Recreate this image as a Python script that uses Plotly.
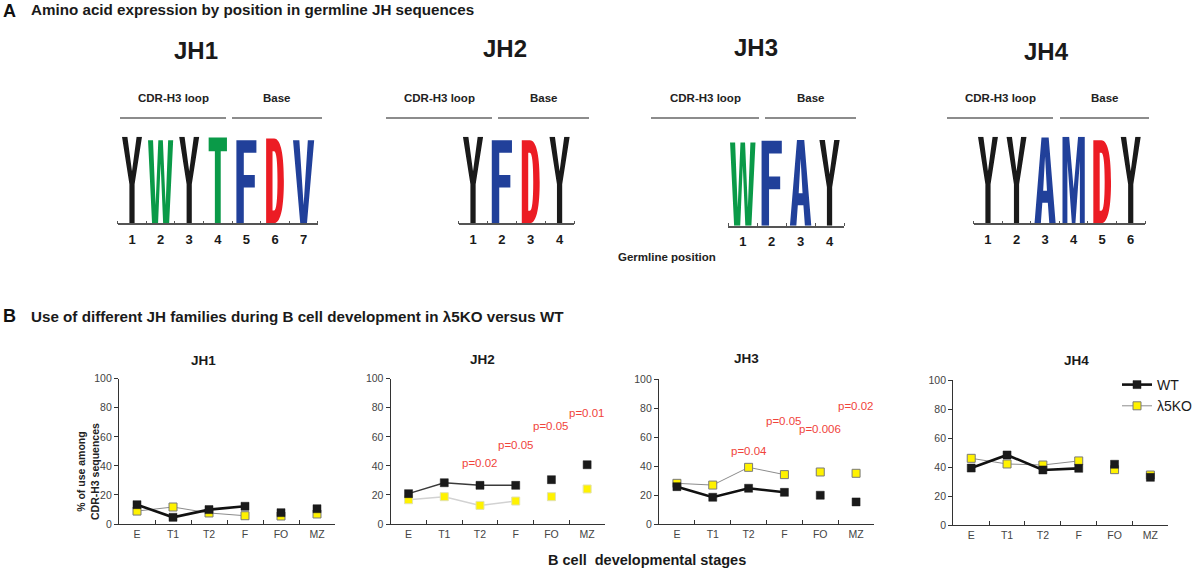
import plotly.graph_objects as go

W, H = 1195, 568

# ---------- Panel A: amino acids by germline position ----------
jh_names = ["JH1", "JH2", "JH3", "JH4"]
jh1_letters = ["Y", "W", "Y", "T", "F", "D", "V"]
jh1_heights = [1.0, 0.96, 1.0, 0.99, 0.96, 0.98, 0.96]
jh2_letters = ["Y", "F", "D", "Y"]
jh2_heights = [1.0, 0.96, 0.96, 1.0]
jh3_letters = ["W", "F", "A", "Y"]
jh3_heights = [0.97, 0.99, 1.0, 1.0]
jh4_letters = ["Y", "Y", "A", "M", "D", "Y"]
jh4_heights = [1.0, 1.0, 0.99, 1.0, 0.96, 1.0]

# ---------- Panel B: % of use among CDR-H3 sequences ----------
stages = ["E", "T1", "T2", "F", "FO", "MZ"]
jh1_wt = [13.3, 4.6, 9.9, 12.2, 7.8, 10.5]
jh1_ko = [8.9, 11.7, 7.6, 5.7, 5.5, 6.9]
jh2_wt = [20.9, 28.4, 26.6, 26.6, 30.5, 40.8]
jh2_ko = [16.7, 18.8, 12.8, 15.8, 18.8, 24.1]
jh3_wt = [25.9, 18.6, 24.8, 22.0, 20.0, 15.4]
jh3_ko = [28.2, 27.0, 39.2, 34.2, 36.0, 35.1]
jh4_wt = [39.4, 48.4, 38.1, 39.2, 42.0, 33.0]
jh4_ko = [46.1, 42.2, 41.5, 44.3, 38.3, 34.6]

jh2_pvals = ["p=0.02", "p=0.05", "p=0.05", "p=0.01"]
jh3_pvals = ["p=0.04", "p=0.05", "p=0.006", "p=0.02"]
pval_stages = ["T2", "F", "FO", "MZ"]


def px(x):
    return x / W


def py(y):
    return 1 - y / H


FONT = "Liberation Sans, Arial, sans-serif"
NARROW = "Liberation Sans Narrow, Arial Narrow, Liberation Sans, sans-serif"

# letter outlines in a unit box (y up)
GLYPHS = {
    "Y": "M 0,1 L 0.27,1 L 0.5,0.6 L 0.73,1 L 1,1 L 0.63,0.45 L 0.63,0 L 0.37,0 L 0.37,0.45 Z",
    "W": "M 0,1 L 0.2,1 L 0.3,0.22 L 0.41,1 L 0.59,1 L 0.7,0.22 L 0.8,1 L 1,1 "
         "L 0.84,0 L 0.6,0 L 0.5,0.72 L 0.4,0 L 0.16,0 Z",
    "T": "M 0,1 L 1,1 L 1,0.84 L 0.66,0.84 L 0.66,0 L 0.34,0 L 0.34,0.84 L 0,0.84 Z",
    "F": "M 0,0 L 0,1 L 1,1 L 1,0.85 L 0.37,0.85 L 0.37,0.58 L 0.92,0.58 "
         "L 0.92,0.43 L 0.37,0.43 L 0.37,0 Z",
    "D": "M 0,0 L 0,1 L 0.45,1 C 0.86,1 1,0.78 1,0.5 C 1,0.22 0.86,0 0.45,0 Z "
         "M 0.36,0.15 L 0.45,0.15 C 0.58,0.15 0.64,0.28 0.64,0.5 "
         "C 0.64,0.72 0.58,0.85 0.45,0.85 L 0.36,0.85 Z",
    "V": "M 0,1 L 0.3,1 L 0.5,0.22 L 0.7,1 L 1,1 L 0.66,0 L 0.34,0 Z",
    "A": "M 0,0 L 0.33,1 L 0.67,1 L 1,0 L 0.7,0 L 0.63,0.24 L 0.37,0.24 L 0.3,0 Z "
         "M 0.41,0.38 L 0.59,0.38 L 0.5,0.78 Z",
    "M": "M 0,0 L 0,1 L 0.3,1 L 0.5,0.4 L 0.7,1 L 1,1 L 1,0 L 0.78,0 L 0.78,0.72 "
         "L 0.58,0 L 0.42,0 L 0.22,0.72 L 0.22,0 Z",
}
GLYPH_W = {"Y": 0.7, "W": 0.88, "T": 0.64, "F": 0.7, "D": 0.62, "V": 0.74, "A": 0.74, "M": 0.78}
GLYPH_C = {"Y": "#1a1a1a", "W": "#0a9a48", "T": "#0a9a48", "F": "#21409a",
           "D": "#ec1c24", "V": "#21409a", "A": "#21409a", "M": "#21409a"}


def glyph_path(letter, pos, height):
    w = GLYPH_W[letter]
    out = []
    for tok in GLYPHS[letter].split():
        if "," in tok:
            gx, gy = map(float, tok.split(","))
            out.append(f"{pos - w / 2 + gx * w:.4f},{gy * height:.4f}")
        else:
            out.append(tok)
    return " ".join(out)


fig = go.Figure()
layout = {}
shapes = []
annotations = []

# logo panels: x domain (px), baseline / top (px), title pos, loop/base brackets
logo_letters = [jh1_letters, jh2_letters, jh3_letters, jh4_letters]
logo_heights = [jh1_heights, jh2_heights, jh3_heights, jh4_heights]
logo_xdom = [(117.7, 317.9), (458.6, 574.0), (728.3, 844.0), (973.7, 1145.0)]
logo_ydom = [(223.3, 136.7), (223.3, 136.7), (225.7, 140.0), (223.3, 136.7)]
logo_title = [(196, 50), (505, 48), (755.5, 47), (1046, 51)]
loop_line = [(120, 226), (386, 492), (651, 759), (947, 1053)]
base_line = [(232, 322), (498, 589), (765, 856), (1060, 1149)]

for i in range(4):
    k = i + 1
    xa = "x" if k == 1 else f"x{k}"
    ya = "y" if k == 1 else f"y{k}"
    letters, heights = logo_letters[i], logo_heights[i]
    pos = list(range(1, len(letters) + 1))
    fig.add_trace(go.Scatter(
        x=pos, y=heights, mode="markers", marker=dict(opacity=0),
        text=letters, hovertemplate="%{x}: %{text}<extra></extra>",
        xaxis=xa, yaxis=ya, showlegend=False))
    for p, letter, h in zip(pos, letters, heights):
        shapes.append(dict(type="path", xref=xa, yref=ya, path=glyph_path(letter, p, h),
                           fillcolor=GLYPH_C[letter], line=dict(width=0), layer="below"))
    layout["xaxis" if k == 1 else f"xaxis{k}"] = dict(
        domain=[px(logo_xdom[i][0]), px(logo_xdom[i][1])], anchor=ya,
        range=[0.5, len(letters) + 0.5], tickmode="array", tickvals=pos,
        ticktext=[str(p) for p in pos], ticks="", ticklabelstandoff=3,
        tickfont=dict(family=FONT, size=13, color="#1a1a1a", weight="bold"),
        minor=dict(tickmode="array", tickvals=[p - 0.5 for p in pos] + [len(pos) + 0.5],
                   ticks="inside", ticklen=3, tickcolor="#555", tickwidth=1),
        showline=True, linecolor="#555", linewidth=1.5, showgrid=False,
        zeroline=False, fixedrange=True)
    layout["yaxis" if k == 1 else f"yaxis{k}"] = dict(
        domain=[py(logo_ydom[i][0]), py(logo_ydom[i][1])], anchor=xa,
        range=[0, 1], visible=False, fixedrange=True)

    annotations.append(dict(x=px(logo_title[i][0]), y=py(logo_title[i][1]),
                            text=f"<b>{jh_names[i]}</b>", showarrow=False,
                            font=dict(family=FONT, size=24, color="#1a1a1a")))
    for (x0, x1), label in zip([loop_line[i], base_line[i]], ["CDR-H3 loop", "Base"]):
        shapes.append(dict(type="line", xref="paper", yref="paper",
                           x0=px(x0), x1=px(x1), y0=py(118), y1=py(118),
                           line=dict(color="#666", width=1.5)))
        annotations.append(dict(x=px((x0 + x1) / 2), y=py(98), text=f"<b>{label}</b>",
                                showarrow=False,
                                font=dict(family=FONT, size=11.5, color="#222")))

annotations.append(dict(x=px(667), y=py(257), text="<b>Germline position</b>",
                        showarrow=False, font=dict(family=FONT, size=11.5, color="#222")))

# ---------- line charts ----------
wt_series = [jh1_wt, jh2_wt, jh3_wt, jh4_wt]
ko_series = [jh1_ko, jh2_ko, jh3_ko, jh4_ko]
chart_xdom = [(119, 335), (390.7, 605), (659, 874), (953.3, 1168.3)]
chart_ydom = [(524, 378.7), (524, 378.7), (524.3, 379), (525.3, 380)]
chart_title = [(203, 360), (482.7, 359.3), (746.7, 358), (1076, 360)]
wt_width = [2.6, 1.5, 2.6, 2.6]
wt_line = ["#111", "#3a3a3a", "#111", "#111"]
ko_width = [1, 1.5, 1, 1]
ko_line = ["#8c8c8c", "#d2d2d2", "#8c8c8c", "#8c8c8c"]
ko_edge = ["#7a7a7a", "#e2e2b0", "#7a7a7a", "#7a7a7a"]

for i in range(4):
    k = i + 5
    xa, ya = f"x{k}", f"y{k}"
    legend_on = i == 0
    ko_marker = dict(symbol="square", size=8, color="#fff200",
                     line=dict(color=ko_edge[i], width=1))
    wt_marker = dict(symbol="square", size=8, color="#1a1a1a",
                     line=dict(color="#1a1a1a", width=0.5))
    fig.add_trace(go.Scatter(
        x=stages[:4], y=ko_series[i][:4], mode="lines+markers", name="λ5KO",
        line=dict(color=ko_line[i], width=ko_width[i]), marker=ko_marker,
        xaxis=xa, yaxis=ya, showlegend=legend_on))
    fig.add_trace(go.Scatter(
        x=stages[4:], y=ko_series[i][4:], mode="markers", name="λ5KO",
        marker=ko_marker, xaxis=xa, yaxis=ya, showlegend=False))
    fig.add_trace(go.Scatter(
        x=stages[:4], y=wt_series[i][:4], mode="lines+markers", name="WT",
        line=dict(color=wt_line[i], width=wt_width[i]), marker=wt_marker,
        xaxis=xa, yaxis=ya, showlegend=legend_on))
    fig.add_trace(go.Scatter(
        x=stages[4:], y=wt_series[i][4:], mode="markers", name="WT",
        marker=wt_marker, xaxis=xa, yaxis=ya, showlegend=False))

    layout[f"xaxis{k}"] = dict(
        domain=[px(chart_xdom[i][0]), px(chart_xdom[i][1])], anchor=ya,
        type="category", categoryorder="array", categoryarray=stages,
        range=[-0.5, len(stages) - 0.5], tickson="boundaries", ticks="inside",
        ticklen=4, tickcolor="#333", showline=True, linecolor="#333", linewidth=1.3,
        showgrid=False, zeroline=False, fixedrange=True,
        tickfont=dict(family=NARROW, size=10.5, color="#444"))
    layout[f"yaxis{k}"] = dict(
        domain=[py(chart_ydom[i][0]), py(chart_ydom[i][1])], anchor=xa,
        range=[0, 100], tickvals=[0, 20, 40, 60, 80, 100], ticks="outside",
        ticklen=4, tickcolor="#333", showline=True, linecolor="#333", linewidth=1.3,
        showgrid=False, zeroline=False, fixedrange=True,
        tickfont=dict(family=NARROW, size=10.5, color="#444"))
    annotations.append(dict(x=px(chart_title[i][0]), y=py(chart_title[i][1]),
                            text=f"<b>{jh_names[i]}</b>", showarrow=False,
                            font=dict(family=FONT, size=13.5, color="#1a1a1a")))

# p values above the stages
for k, labels, heights in [(6, jh2_pvals, [42, 54.6, 67.4, 76.6]),
                           (7, jh3_pvals, [50.5, 70.9, 65.4, 81.4])]:
    for st, lab, yv in zip(pval_stages, labels, heights):
        annotations.append(dict(x=st, y=yv, xref=f"x{k}", yref=f"y{k}", text=lab,
                                showarrow=False,
                                font=dict(family=NARROW, size=11.5, color="#f0443a")))

annotations += [
    dict(x=px(88), y=py(472), text="<b>% of use among<br>CDR-H3 sequences</b>",
         textangle=-90, showarrow=False, font=dict(family=FONT, size=10.5, color="#222")),
    dict(x=px(647), y=py(560), text="<b>B cell&nbsp; developmental stages</b>",
         showarrow=False, font=dict(family=FONT, size=14.5, color="#1a1a1a")),
    dict(x=px(9), y=py(10.5), text="<b>A</b>", showarrow=False,
         font=dict(family=FONT, size=18, color="#111")),
    dict(x=px(29), y=py(10), xanchor="left",
         text="<b>Amino acid expression by position in germline JH sequences</b>",
         showarrow=False, font=dict(family=FONT, size=15.2, color="#1a1a1a")),
    dict(x=px(9), y=py(316), text="<b>B</b>", showarrow=False,
         font=dict(family=FONT, size=18, color="#111")),
    dict(x=px(29), y=py(316), xanchor="left",
         text="<b>Use of different JH families during B cell development in λ5KO versus WT</b>",
         showarrow=False, font=dict(family=FONT, size=15.2, color="#1a1a1a")),
]
for a in annotations:
    a.setdefault("xref", "paper")
    a.setdefault("yref", "paper")
    a.setdefault("xanchor", "center")
    a.setdefault("yanchor", "middle")

fig.update_layout(
    width=W, height=H,
    margin=dict(l=0, r=0, t=0, b=0, autoexpand=False),
    paper_bgcolor="white", plot_bgcolor="white",
    font=dict(family=FONT, color="#222"),
    shapes=shapes, annotations=annotations,
    legend=dict(x=px(1117), y=py(369), xanchor="left", yanchor="top",
                traceorder="reversed", bgcolor="rgba(0,0,0,0)",
                font=dict(family=FONT, size=14, color="#1a1a1a")),
    **layout,
)

# page body margin would shift the figure by 8px
fig.write_html("out.html", config={"displayModeBar": False},
               post_script="document.body.style.margin='0';")
